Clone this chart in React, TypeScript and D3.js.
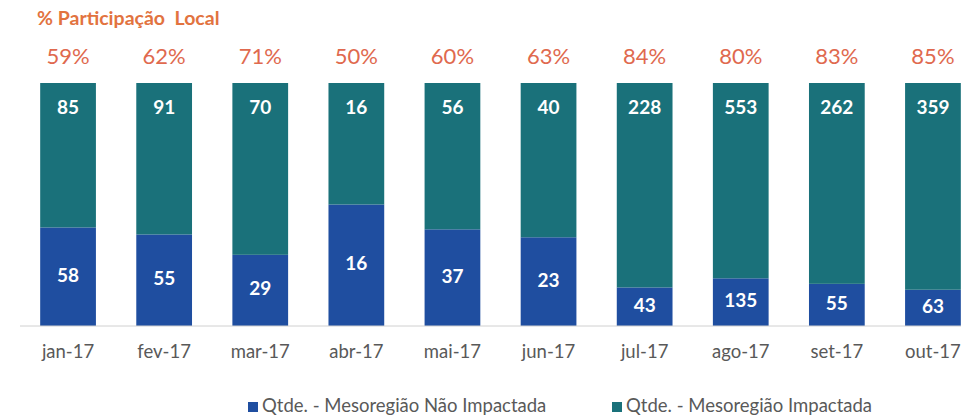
import * as d3 from 'd3';

const WIDTH = 971;
const HEIGHT = 419;
const MARGIN = { top: 83, right: -10, bottom: 93, left: 20 };

const months = ['jan-17', 'fev-17', 'mar-17', 'abr-17', 'mai-17', 'jun-17', 'jul-17', 'ago-17', 'set-17', 'out-17'];
const naoImpactada = [58, 55, 29, 16, 37, 23, 43, 135, 55, 63];
const impactada = [85, 91, 70, 16, 56, 40, 228, 553, 262, 359];
const participacao = ['59%', '62%', '71%', '50%', '60%', '63%', '84%', '80%', '83%', '85%'];

const seriesNames = ['Qtde. - Mesoregião Não Impactada', 'Qtde. - Mesoregião Impactada'];
const COLORS = ['#1f4ea0', '#1a717a'];
const FONT = 'Lato, "Open Sans", sans-serif';

const App = () => {
  const boundsWidth = WIDTH - MARGIN.left - MARGIN.right;
  const boundsHeight = HEIGHT - MARGIN.top - MARGIN.bottom;

  const xScale = d3.scaleBand().domain(months).range([0, boundsWidth]).paddingInner(0.42).paddingOuter(0.21);
  const yScale = d3.scaleLinear().domain([0, 1]).range([boundsHeight, 0]);

  const rows = months.map((m, i) => ({ month: m, nao: naoImpactada[i], imp: impactada[i] }));
  // 100% stacked: each bar is the share of each series in the month
  const stacked = d3
    .stack<{ month: string; nao: number; imp: number }>()
    .keys(['nao', 'imp'])
    .offset(d3.stackOffsetExpand)(rows);

  const bw = xScale.bandwidth();

  return (
    <svg width={WIDTH} height={HEIGHT} style={{ position: 'absolute', left: 0, top: 0 }}>
      <text x={37} y={20} fill="#e2733f" fontFamily={FONT} fontWeight="bold" fontSize={19.5} dominantBaseline="middle">
        {'% Participação\u00a0 Local'}
      </text>
      <g transform={`translate(${MARGIN.left},${MARGIN.top})`}>
        {stacked.map((layer, li) =>
          layer.map((d, i) => {
            const x = xScale(d.data.month) ?? 0;
            const y0 = yScale(d[0]);
            const y1 = yScale(d[1]);
            const value = li === 0 ? d.data.nao : d.data.imp;
            const labelY = li === 0 ? (y0 + y1) / 2 : y1 + 26;
            return (
              <g key={`${layer.key}-${i}`}>
                <rect x={x} y={y1} width={bw} height={y0 - y1} fill={COLORS[li]} />
                <text
                  x={x + bw / 2}
                  y={labelY}
                  fill="white"
                  fontFamily={FONT}
                  fontWeight="bold"
                  fontSize={19}
                  textAnchor="middle"
                  dominantBaseline="middle"
                >
                  {value}
                </text>
              </g>
            );
          })
        )}
        <line x1={0} x2={boundsWidth - 20} y1={boundsHeight} y2={boundsHeight} stroke="#d0d0d0" />
        {months.map((m, i) => (
          <g key={m}>
            <text
              x={(xScale(m) ?? 0) + bw / 2}
              y={boundsHeight + 27}
              fill="#595959"
              fontFamily={FONT}
              fontSize={18.5}
              textAnchor="middle"
              dominantBaseline="middle"
            >
              {m}
            </text>
            <text
              x={(xScale(m) ?? 0) + bw / 2}
              y={-25}
              fill="#e0694e"
              fontFamily={FONT}
              fontSize={22}
              textAnchor="middle"
              dominantBaseline="middle"
            >
              {participacao[i]}
            </text>
          </g>
        ))}
      </g>
      {seriesNames.map((name, i) => {
        const lx = i === 0 ? 248 : 612;
        return (
          <g key={name} transform={`translate(${lx},407)`}>
            <rect x={0} y={-5} width={10} height={10} fill={COLORS[i]} />
            <text x={14} y={0} fill="#595959" fontFamily={FONT} fontSize={18.5} dominantBaseline="middle">
              {name}
            </text>
          </g>
        );
      })}
    </svg>
  );
};

export default App;
